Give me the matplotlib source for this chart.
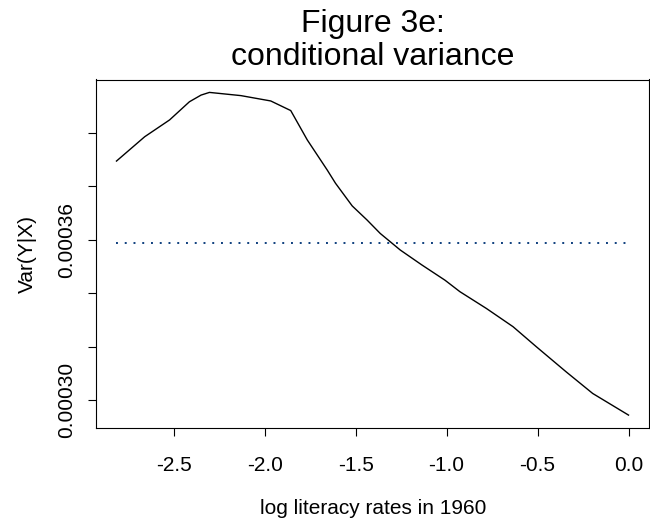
import matplotlib
matplotlib.use("Agg")
import matplotlib.pyplot as plt

plt.rcParams["font.family"] = ["Liberation Sans", "DejaVu Sans"]

# values
log_literacy = [-2.815, -2.660, -2.523, -2.414, -2.350, -2.304, -2.131, -1.967,
                -1.857, -1.766, -1.656, -1.611, -1.519, -1.437, -1.365, -1.255,
                -1.136, -1.009, -0.927, -0.781, -0.635, -0.507, -0.343, -0.197, 0.0]
cond_var = [0.0003895, 0.0003986, 0.0004049, 0.0004117, 0.0004142, 0.0004152,
            0.0004140, 0.0004120, 0.0004084, 0.0003974, 0.0003861, 0.0003812,
            0.0003727, 0.0003674, 0.0003624, 0.0003562, 0.0003506, 0.0003449,
            0.0003406, 0.0003343, 0.0003275, 0.0003200, 0.0003106, 0.0003025,
            0.0002944]
overall_var = 0.0003587

x_ticks = [-2.5, -2.0, -1.5, -1.0, -0.5, 0.0]
x_tick_labels = ["-2.5", "-2.0", "-1.5", "-1.0", "-0.5", "0.0"]
y_ticks = [0.00030, 0.00032, 0.00034, 0.00036, 0.00038, 0.00040]
y_tick_labels = ["0.00030", "", "", "0.00036", "", ""]

W, H = 650, 530
fig = plt.figure(figsize=(W / 100, H / 100), dpi=100)
ax = fig.add_axes([96 / W, 1 - 428 / H, 553 / W, 348.5 / H])

ax.plot(log_literacy, cond_var, color="black", lw=1.0)
ax.plot([log_literacy[0], log_literacy[-1]], [overall_var, overall_var],
        color="#0e3f7e", lw=1.4, linestyle=(0, (1, 3.5)))

# R style 4% padding round the data
xr = max(log_literacy) - min(log_literacy)
yr = max(cond_var) - min(cond_var)
ax.set_xlim(min(log_literacy) - 0.04 * xr, max(log_literacy) + 0.04 * xr)
ax.set_ylim(min(cond_var) - 0.04 * yr, max(cond_var) + 0.04 * yr)

ax.set_xticks(x_ticks)
ax.set_xticklabels(x_tick_labels)
ax.set_yticks(y_ticks)
ax.set_yticklabels(y_tick_labels, rotation=90, va="center")
ax.tick_params(axis="both", direction="out", length=6, width=0.8,
               labelsize=15, colors="black")
ax.tick_params(axis="x", pad=14)
ax.tick_params(axis="y", pad=8)
for s in ax.spines.values():
    s.set_linewidth(0.8)

fig.text(373 / W, 1 - 32 / H, "Figure 3e:", ha="center", va="baseline", fontsize=23)
fig.text(373 / W, 1 - 65 / H, "conditional variance", ha="center", va="baseline", fontsize=23)
fig.text(373 / W, 1 - 508 / H, "log literacy rates in 1960", ha="center", va="center", fontsize=15)
fig.text(27 / W, 1 - 254 / H, "Var(Y|X)", ha="center", va="center", rotation=90, fontsize=15)

fig.savefig("out.png", dpi=100)
